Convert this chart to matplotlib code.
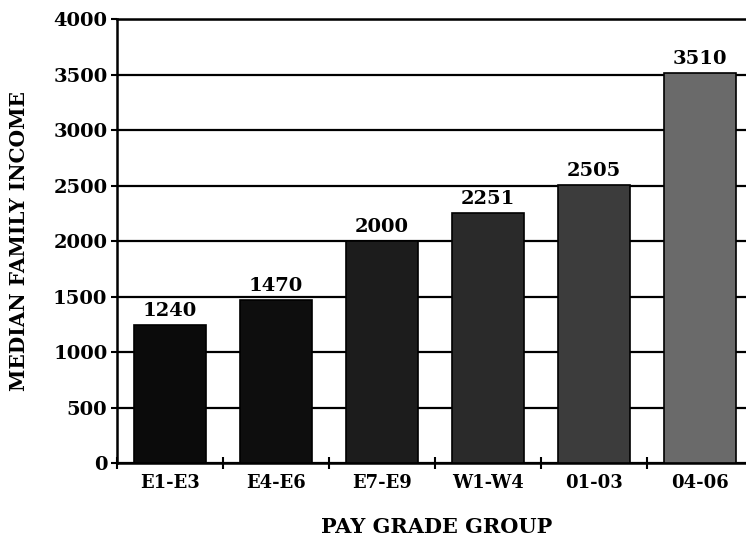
import matplotlib.pyplot as plt

# данные
groups = ['E1-E3', 'E4-E6', 'E7-E9', 'W1-W4', '01-03', '04-06']
income = [1240, 1470, 2000, 2251, 2505, 3510]
shades = ['#0b0b0b', '#0e0e0e', '#1c1c1c', '#2a2a2a', '#3c3c3c', '#6a6a6a']

plt.rcParams['font.family'] = ['DejaVu Serif', 'Liberation Serif']
plt.rcParams['font.weight'] = 'bold'

fig = plt.figure(figsize=(7.46, 5.36), dpi=100)
ax = fig.add_axes([0.157, 0.136, 0.8525, 0.8284])

x = range(len(groups))
bars = ax.bar(x, income, width=0.68, color=shades, edgecolor='black', linewidth=1.2, zorder=3)

# подписи значений над столбцами
for b, v in zip(bars, income):
    ax.text(b.get_x() + b.get_width() / 2, v + 45, str(v), ha='center', va='bottom',
            fontsize=14, fontweight='bold', zorder=4)

ax.set_xlim(-0.5, 5.5)
ax.set_ylim(0, 4000)
ax.set_yticks(range(0, 4001, 500))
ax.yaxis.grid(True, color='black', linewidth=1.6, zorder=0)
ax.set_axisbelow(True)

# деления между группами, подписи по центрам
ax.set_xticks([i + 0.5 for i in range(-1, 5)])
ax.set_xticklabels([])
ax.set_xticks(list(x), minor=True)
ax.set_xticklabels(groups, minor=True, fontsize=13, fontweight='bold')
ax.tick_params(axis='x', which='major', direction='inout', length=9, width=1.5)
ax.tick_params(axis='x', which='minor', length=0, pad=8)
ax.tick_params(axis='y', direction='out', length=4, width=1.5, labelsize=14, pad=3)

ax.spines['right'].set_visible(False)
for side in ['left', 'bottom', 'top']:
    ax.spines[side].set_linewidth(1.8)

ax.set_ylabel('MEDIAN FAMILY INCOME', fontsize=14.5, fontweight='bold', va='center')
ax.yaxis.set_label_coords(-0.154, 0.5)
ax.set_xlabel('PAY GRADE GROUP', fontsize=15, fontweight='bold', va='center')
ax.xaxis.set_label_coords(0.503, -0.144)

fig.savefig('out.png', dpi=100)
